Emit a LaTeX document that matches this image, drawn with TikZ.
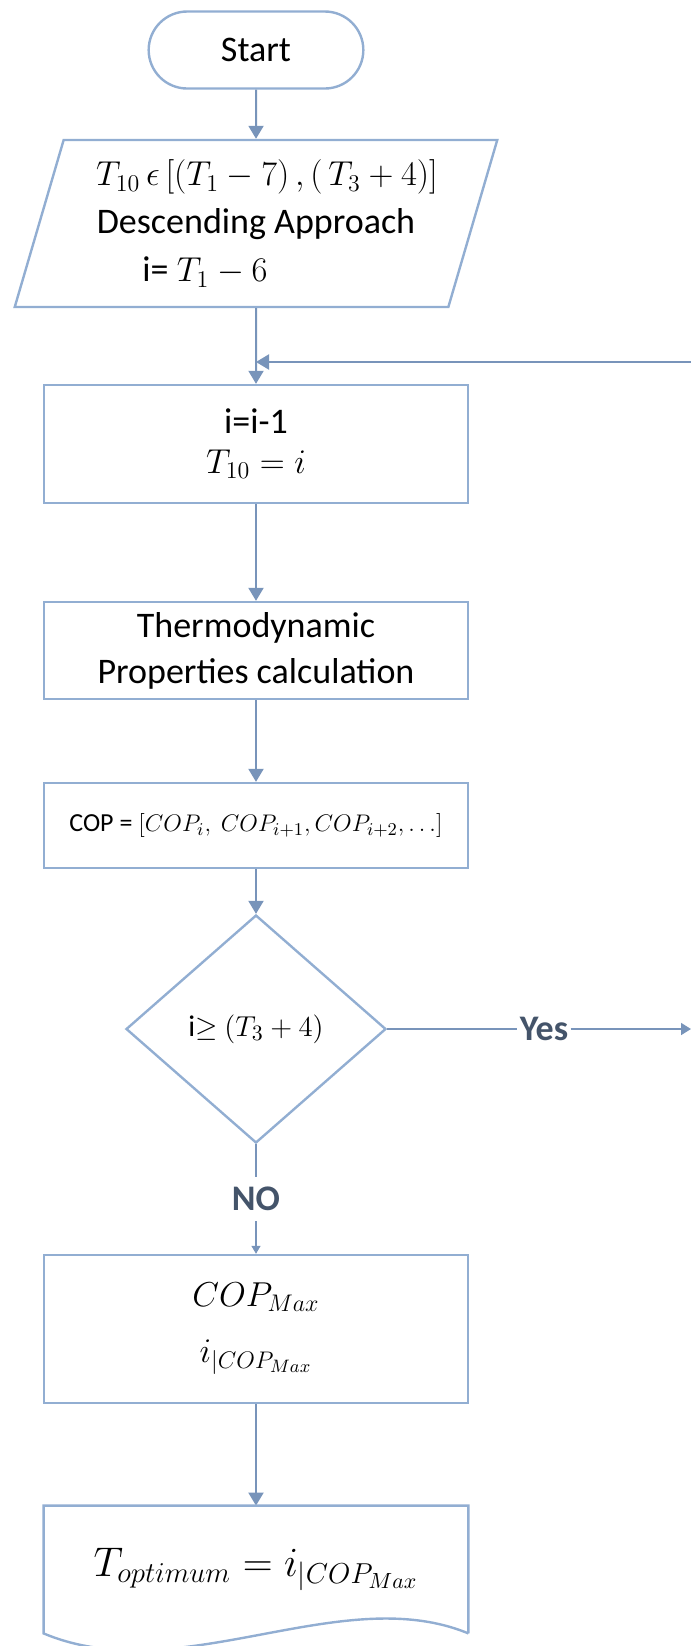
\documentclass[tikz,border=0pt]{standalone}
\usepackage[no-math]{fontspec}
\setmainfont{Carlito}
\usepackage{tikz}
\usetikzlibrary{shapes.geometric, shapes.misc, positioning, arrows.meta, calc}

\definecolor{boxblue}{RGB}{146,174,210}
\definecolor{lineblue}{RGB}{120,148,186}
\definecolor{labelgray}{RGB}{68,84,106}

\begin{document}
\begin{tikzpicture}[
    x=0.5pt, y=-0.5pt,
    terminal/.style={draw=boxblue, rounded rectangle, line width=1.2pt, minimum width=114pt, minimum height=38.5pt, align=center},
    io/.style={draw=boxblue, trapezium, trapezium left angle=70, trapezium right angle=110, trapezium stretches=true, line width=1.2pt, minimum width=241.5pt, minimum height=83.5pt, inner sep=0pt, align=center},
    process/.style={draw=boxblue, rectangle, line width=1.2pt, minimum width=212pt, align=center},
    decision/.style={draw=boxblue, diamond, line width=1.2pt, minimum width=130pt, minimum height=114pt, inner sep=0pt, align=center},
    docbox/.style={rectangle, minimum width=212pt, minimum height=63.5pt, align=center},
    flow/.style={draw=lineblue, line width=1pt, -{Triangle[length=6.5pt, width=7.5pt]}},
    thinflow/.style={draw=lineblue, line width=0.6pt},
    answer/.style={font=\fontsize{18}{22}\selectfont\bfseries, text=labelgray, inner xsep=1pt, inner ysep=5pt},
    every node/.style={font=\fontsize{18}{22}\selectfont}
]
    \useasboundingbox (0,0) rectangle (691,1646);

    % ===============================
    % 1. MAIN COLUMN
    % ===============================
    \node[terminal] (start) at (256, 50) {Start};
    \node[io] (input) at (256, 223.5) {\hspace*{11pt}$T_{10}\,\epsilon\,[(T_1-7)\,,(\,T_3+4)]$\\[2pt]
        Descending Approach\\[2pt]
        i= $T_1-6$\hspace*{51pt}};
    \node[process, minimum height=59pt] (update) at (256, 444) {i=i-1\\[-2pt] $T_{10}=i$};
    \node[process, minimum height=48.5pt] (thermo) at (256, 650.5) {Thermodynamic\\[1pt] Properties calculation};
    \node[process, minimum height=42.5pt, font=\fontsize{13}{16}\selectfont] (cop) at (256, 825.5) {COP = $[COP_i,\ COP_{i+1}, COP_{i+2}, \dots]$};
    \node[decision, font=\fontsize{15}{18}\selectfont] (check) at (256, 1029) {i$\geq$ $(T_3+4)$};
    \node[process, minimum height=74pt] (maxcop) at (256, 1329) {$COP_{Max}$\\[6pt] $i_{|COP_{Max}}$};
    \node[docbox, font=\fontsize{21}{24}\selectfont] (result) at (256, 1569.5) {$T_{optimum}=i_{|COP_{Max}}$};

    % ===============================
    % 2. BRANCH LABELS
    % ===============================
    \node[answer] (yes) at (544, 1029) {Yes};
    \node[answer] (no) at (256, 1199) {NO};

    \coordinate (loopin) at (691, 362);
    \coordinate (yesout) at (691, 1029);

    % ===============================
    % 3. CONNECTIONS
    % ===============================
    \draw[flow] (start.south) -- (input.north);
    \draw[flow] (input.south) -- (update.north);
    \draw[flow] (loopin) -- (loopin -| update.north);
    \draw[flow] (update.south) -- (thermo.north);
    \draw[flow] (thermo.south) -- (cop.north);
    \draw[flow] (cop.south) -- (check.north);

    \draw[thinflow, line width=0.8pt] (check.east) -- (yes.west);
    \draw[thinflow, line width=0.8pt, -{Triangle[length=5pt, width=6pt]}] (yes.east) -- (yesout);
    \draw[thinflow] (check.south) -- (no.north);
    \draw[thinflow, -{Triangle[length=4pt, width=4.5pt]}] (no.south) -- (maxcop.north);
    \draw[flow] (maxcop.south) -- (result.north);

    % document outline of the result
    \draw[draw=boxblue, line width=1.2pt] (result.south east) -- (result.north east) -- (result.north west) -- (result.south west)
        .. controls +(136, 57) and +(-128, -53) .. (result.south east);

\end{tikzpicture}
\end{document}
